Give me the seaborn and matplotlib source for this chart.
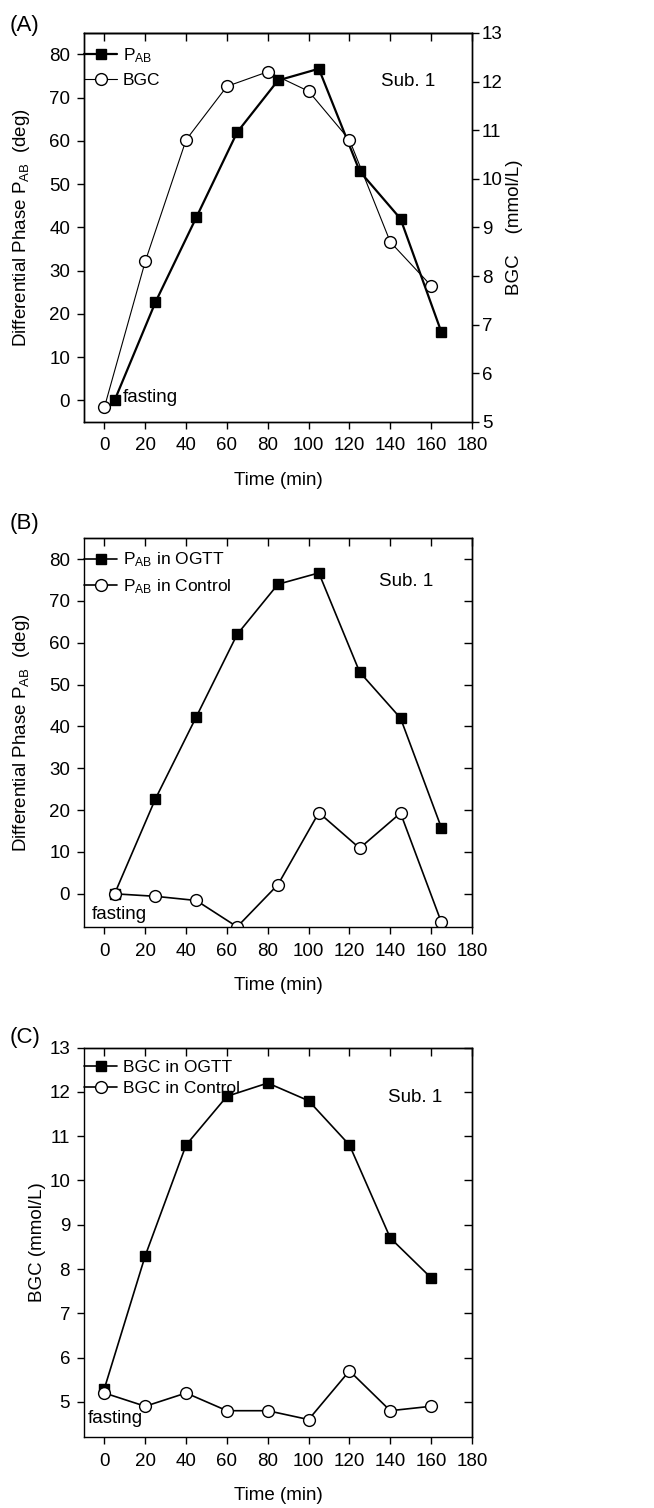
import matplotlib
matplotlib.use("Agg")
import matplotlib.pyplot as plt
import seaborn as sns

sns.set_theme(style="ticks", rc={
    "axes.edgecolor": "black", "xtick.color": "black", "ytick.color": "black",
    "text.color": "black", "axes.labelcolor": "black", "axes.linewidth": 1.0,
})
plt.rcParams['font.family'] = ['Liberation Sans', 'DejaVu Sans']
plt.rcParams['mathtext.fontset'] = 'custom'
plt.rcParams['mathtext.rm'] = 'Liberation Sans'
plt.rcParams['mathtext.it'] = 'Liberation Sans'

# data
t_pab = [5, 25, 45, 65, 85, 105, 125, 145, 165]
t_bgc = [0, 20, 40, 60, 80, 100, 120, 140, 160]
pab_ogtt = [0, 22.7, 42.3, 62, 74, 76.7, 53, 42, 15.8]
pab_control = [0, -0.6, -1.6, -7.9, 2.2, 19.4, 10.9, 19.3, -6.8]
bgc_ogtt = [5.3, 8.3, 10.8, 11.9, 12.2, 11.8, 10.8, 8.7, 7.8]
bgc_control = [5.2, 4.9, 5.2, 4.8, 4.8, 4.6, 5.7, 4.8, 4.9]

x_ticks = list(range(0, 181, 20))
pab_ticks = list(range(0, 81, 10))
bgc_ticks = list(range(5, 14))

TICK_FS = 13.5
LABEL_FS = 13.5
LEG_FS = 12.5
NOTE_FS = 13.5

sq = dict(marker='s', markersize=7.5, color='black', markerfacecolor='black',
          markeredgecolor='black', markeredgewidth=1)
circ = dict(marker='o', markersize=8.5, color='black', markerfacecolor='white',
            markeredgecolor='black', markeredgewidth=1)

pab_lab = r'P$_\mathregular{AB}$'


def style_axis(ax, yticks, mirror_right=True):
    ax.set_xlim(-10, 180)
    ax.set_xticks(x_ticks)
    ax.set_yticks(yticks)
    ax.tick_params(axis='x', direction='out', length=5, width=1, pad=6, labelsize=TICK_FS)
    ax.tick_params(axis='y', direction='out', length=5, width=1, pad=5, labelsize=TICK_FS)
    for s in ax.spines.values():
        s.set_visible(True)
        s.set_linewidth(1.0)
    top = ax.secondary_xaxis('top')
    top.set_xticks(x_ticks)
    top.tick_params(direction='in', length=6, width=1, labeltop=False)
    if mirror_right:
        right = ax.secondary_yaxis('right')
        right.set_yticks(yticks)
        right.tick_params(direction='in', length=6, width=1, labelright=False)
    ax.set_xlabel('Time (min)', fontsize=LABEL_FS)
    ax.xaxis.set_label_coords(0.5, -0.128)


def add_legend(ax, handles, labels, y_anchor, spacing):
    ax.legend(handles, labels, loc='upper left', bbox_to_anchor=(-0.008, y_anchor),
              frameon=False, fontsize=LEG_FS, handlelength=1.9, handletextpad=0.3,
              borderaxespad=0, borderpad=0.2, labelspacing=spacing)


fig = plt.figure(figsize=(6.54, 15.08), dpi=100)

# ---------------- (A) ----------------
axA = fig.add_axes([0.1284, 0.7202, 0.5933, 0.258])
sns.lineplot(x=t_pab, y=pab_ogtt, ax=axA, legend=False, label=pab_lab, linewidth=1.6, **sq)
axA.set_ylim(-5, 85)
style_axis(axA, pab_ticks, mirror_right=False)
axA.set_ylabel(r'Differential Phase P$_\mathregular{AB}$  (deg)', fontsize=LABEL_FS)
axA.yaxis.set_label_coords(-0.134, 0.5)

axA2 = axA.twinx()
sns.lineplot(x=t_bgc, y=bgc_ogtt, ax=axA2, legend=False, label='BGC', linewidth=0.8, **circ)
axA2.set_ylim(5, 13)
axA2.set_yticks(bgc_ticks)
axA2.tick_params(axis='y', direction='out', length=5, width=1, pad=2, labelsize=TICK_FS)
axA2.set_ylabel('BGC    (mmol/L)', fontsize=LABEL_FS)
axA2.yaxis.set_label_coords(1.088, 0.5)
h1, l1 = axA.get_legend_handles_labels()
h2, l2 = axA2.get_legend_handles_labels()
add_legend(axA2, h1 + h2, l1 + l2, 0.974, 0.45)
axA.text(0.835, 0.874, 'Sub. 1', transform=axA.transAxes, fontsize=NOTE_FS, ha='center', va='center')
axA.text(0.0997, 0.062, 'fasting', transform=axA.transAxes, fontsize=NOTE_FS, ha='left', va='center')
fig.text(10 / 654, 1 - 26 / 1508, '(A)', fontsize=16, ha='left', va='center')

# ---------------- (B) ----------------
axB = fig.add_axes([0.1284, 0.3851, 0.5933, 0.258])
sns.lineplot(x=t_pab, y=pab_ogtt, ax=axB, legend=False, label=pab_lab + ' in OGTT', linewidth=1.2, **sq)
sns.lineplot(x=t_pab, y=pab_control, ax=axB, legend=False, label=pab_lab + ' in Control', linewidth=1.2, **circ)
axB.set_ylim(-8, 85)
style_axis(axB, pab_ticks)
axB.set_ylabel(r'Differential Phase P$_\mathregular{AB}$  (deg)', fontsize=LABEL_FS)
axB.yaxis.set_label_coords(-0.134, 0.5)
h, l = axB.get_legend_handles_labels()
add_legend(axB, h, l, 0.977, 0.45)
axB.text(0.83, 0.888, 'Sub. 1', transform=axB.transAxes, fontsize=NOTE_FS, ha='center', va='center')
axB.text(0.02, 0.032, 'fasting', transform=axB.transAxes, fontsize=NOTE_FS, ha='left', va='center')
fig.text(10 / 654, 1 - 523 / 1508, '(B)', fontsize=16, ha='left', va='center')

# ---------------- (C) ----------------
axC = fig.add_axes([0.1284, 0.0469, 0.5933, 0.2584])
sns.lineplot(x=t_bgc, y=bgc_ogtt, ax=axC, legend=False, label='BGC in OGTT', linewidth=1.2, **sq)
sns.lineplot(x=t_bgc, y=bgc_control, ax=axC, legend=False, label='BGC in Control', linewidth=1.2, **circ)
axC.set_ylim(4.2, 13)
style_axis(axC, bgc_ticks)
axC.set_ylabel('BGC (mmol/L)', fontsize=LABEL_FS)
axC.yaxis.set_label_coords(-0.098, 0.5)
h, l = axC.get_legend_handles_labels()
add_legend(axC, h, l, 0.977, 0.35)
axC.text(0.853, 0.871, 'Sub. 1', transform=axC.transAxes, fontsize=NOTE_FS, ha='center', va='center')
axC.text(0.01, 0.047, 'fasting', transform=axC.transAxes, fontsize=NOTE_FS, ha='left', va='center')
fig.text(10 / 654, 1 - 1037 / 1508, '(C)', fontsize=16, ha='left', va='center')

fig.savefig('out.png', dpi=100)
